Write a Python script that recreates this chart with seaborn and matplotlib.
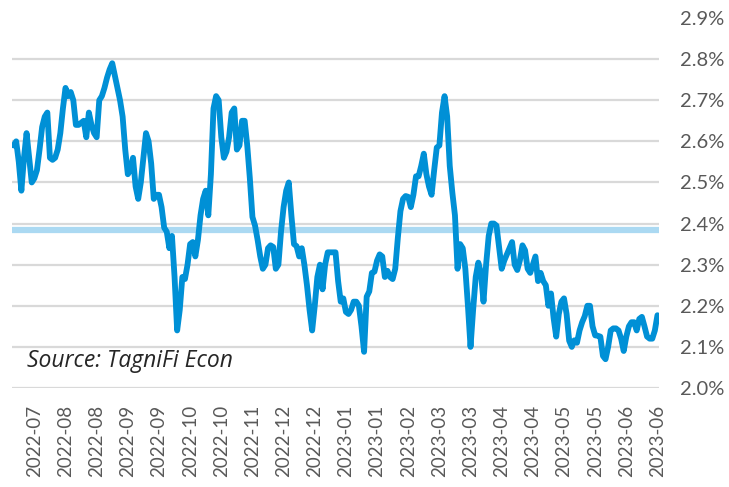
import numpy as np
import pandas as pd
import matplotlib
matplotlib.use('Agg')
import matplotlib.pyplot as plt
from matplotlib.ticker import FuncFormatter
import seaborn as sns

# daily values (%), one per trading day, Jul 2022 - Jun 2023
rate = [
    2.59, 2.60, 2.55, 2.48, 2.56, 2.62, 2.56, 2.50, 2.51, 2.53,
    2.58, 2.635, 2.66, 2.67, 2.56, 2.555, 2.56, 2.58, 2.62, 2.68,
    2.73, 2.71, 2.72, 2.70, 2.64, 2.64, 2.645, 2.65, 2.61, 2.67,
    2.64, 2.62, 2.61, 2.70, 2.71, 2.73, 2.755, 2.775, 2.79, 2.76,
    2.73, 2.70, 2.66, 2.58, 2.52, 2.53, 2.56, 2.49, 2.46, 2.50,
    2.56, 2.62, 2.60, 2.546, 2.46, 2.47, 2.47, 2.44, 2.39, 2.38,
    2.34, 2.37, 2.27, 2.14, 2.19, 2.27, 2.265, 2.30, 2.35, 2.355,
    2.32, 2.36, 2.42, 2.46, 2.48, 2.42, 2.52, 2.68, 2.71, 2.70,
    2.61, 2.56, 2.575, 2.61, 2.67, 2.68, 2.58, 2.59, 2.65, 2.65,
    2.59, 2.51, 2.416, 2.395, 2.36, 2.32, 2.29, 2.30, 2.34, 2.347,
    2.343, 2.29, 2.30, 2.38, 2.44, 2.48, 2.50, 2.42, 2.35, 2.345,
    2.32, 2.34, 2.30, 2.25, 2.19, 2.14, 2.20, 2.27, 2.30, 2.24,
    2.30, 2.33, 2.33, 2.33, 2.33, 2.26, 2.21, 2.218, 2.185, 2.18,
    2.19, 2.21, 2.21, 2.20, 2.15, 2.088, 2.222, 2.235, 2.28, 2.283,
    2.31, 2.325, 2.32, 2.27, 2.285, 2.27, 2.265, 2.29, 2.365, 2.43,
    2.46, 2.467, 2.465, 2.44, 2.47, 2.515, 2.515, 2.54, 2.57, 2.52,
    2.49, 2.47, 2.53, 2.585, 2.59, 2.67, 2.71, 2.66, 2.54, 2.475,
    2.42, 2.29, 2.35, 2.34, 2.29, 2.20, 2.10, 2.19, 2.27, 2.305,
    2.28, 2.21, 2.30, 2.37, 2.40, 2.40, 2.395, 2.343, 2.29, 2.31,
    2.325, 2.34, 2.355, 2.30, 2.287, 2.31, 2.347, 2.335, 2.29, 2.28,
    2.30, 2.32, 2.26, 2.28, 2.26, 2.25, 2.20, 2.23, 2.17, 2.125,
    2.18, 2.21, 2.218, 2.18, 2.115, 2.10, 2.116, 2.11, 2.14, 2.16,
    2.175, 2.20, 2.20, 2.15, 2.128, 2.127, 2.125, 2.078, 2.07, 2.10,
    2.14, 2.145, 2.145, 2.14, 2.12, 2.09, 2.125, 2.15, 2.16, 2.16,
    2.14, 2.168, 2.173, 2.15, 2.125, 2.12, 2.12, 2.14, 2.177,
]
end_date = '2023-06-30'
market_holidays = ['2022-07-04', '2022-09-05', '2022-11-24', '2022-12-26',
                   '2023-01-02', '2023-01-16', '2023-02-20', '2023-04-07',
                   '2023-05-29', '2023-06-19']
reference_level = 2.385
source_note = 'Source: TagniFi Econ'
y_ticks = [2.0, 2.1, 2.2, 2.3, 2.4, 2.5, 2.6, 2.7, 2.8, 2.9]

dates = pd.bdate_range(end=end_date, periods=len(rate), freq='C',
                       holidays=market_holidays)
df = pd.DataFrame({'pos': np.arange(len(rate)), 'date': dates, 'rate': rate})

sns.set_theme(style='white')
plt.rcParams['font.family'] = ['Lato', 'DejaVu Sans']

fig = plt.figure(figsize=(7.29, 4.87), dpi=100)
ax = fig.add_axes([0.0165, 0.2033, 0.8875, 0.7597])

# gridlines (none drawn at the top value)
for v in y_ticks[:-1]:
    ax.axhline(v, color='#d9d9d9', lw=1.6, zorder=0)
ax.axhline(reference_level, color='#abd9f2', lw=4.5, zorder=1,
           solid_capstyle='round')

sns.lineplot(data=df, x='pos', y='rate', ax=ax, color='#0090d6',
             linewidth=4.2, zorder=3)

ax.set_xlim(-0.6, len(rate) - 0.4)
ax.set_ylim(2.0, 2.9)
ax.set_yticks(y_ticks)
ax.yaxis.tick_right()
ax.yaxis.set_major_formatter(FuncFormatter(lambda v, p: f'{v:.1f}%'))
ax.tick_params(axis='y', length=0, pad=15, labelsize=14.5, labelcolor='#595959')

tick_pos = np.arange(len(rate) - 1, -1, -12)[::-1]
ax.set_xticks(tick_pos)
ax.set_xticklabels([df['date'][p].strftime('%Y-%m') for p in tick_pos],
                   rotation=90)
ax.tick_params(axis='x', length=0, pad=12, labelsize=13.5, labelcolor='#595959')
ax.set_xlabel('')
ax.set_ylabel('')
for s in ax.spines.values():
    s.set_visible(False)

ax.text(0.023, 0.074, source_note, transform=ax.transAxes, fontsize=16.5,
        style='italic', color='#262626', va='center', ha='left',
        family=['Open Sans', 'Lato', 'DejaVu Sans'])

fig.savefig('out.png', dpi=100)
